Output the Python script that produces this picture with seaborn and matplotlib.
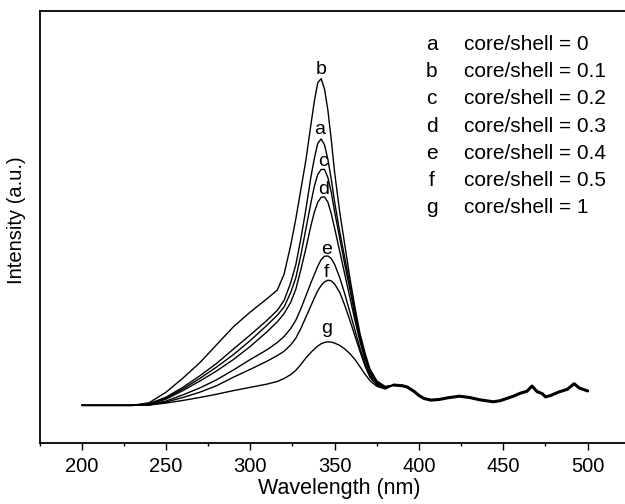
"""
Espectros de intensidad para distintas relaciones core/shell (a-g).
Valores leidos a ojo de la figura original.
"""
import pandas as pd
import matplotlib
matplotlib.use("Agg")
import matplotlib.pyplot as plt
import seaborn as sns
from matplotlib.ticker import MultipleLocator

# --- longitudes de onda (nm) ---
wl_pico = [200, 230, 240, 250, 260, 270, 280, 290, 300, 310, 316, 320, 324, 327,
           330, 333, 336, 338, 340, 342, 344, 346, 348, 350, 353, 356, 359, 362,
           365, 368, 371, 375, 380]
wl_cola = [385, 390, 393, 397, 400, 403, 407, 412, 417, 424, 430, 436, 444, 448,
           452, 456, 460, 464, 467, 470, 473, 475, 478, 483, 488, 492, 495, 500]

# cola comun a todas las muestras (> 380 nm)
cola = [0.062, 0.060, 0.056, 0.043, 0.030, 0.021, 0.016, 0.018, 0.023, 0.028,
        0.024, 0.017, 0.011, 0.014, 0.021, 0.028, 0.037, 0.043, 0.059, 0.042,
        0.036, 0.026, 0.030, 0.041, 0.049, 0.066, 0.053, 0.044]

# intensidad (u.a.) de cada muestra en la zona del pico
int_a = [0, 0, 0.005, 0.025, 0.055, 0.090, 0.128, 0.172, 0.215, 0.260, 0.290,
         0.320, 0.375, 0.430, 0.510, 0.600, 0.700, 0.755, 0.800, 0.813, 0.795,
         0.750, 0.690, 0.620, 0.530, 0.450, 0.370, 0.285, 0.210, 0.150, 0.105,
         0.072, 0.057]
int_b = [0, 0, 0.008, 0.040, 0.083, 0.130, 0.185, 0.240, 0.285, 0.326, 0.352,
         0.400, 0.490, 0.570, 0.660, 0.750, 0.860, 0.930, 0.985, 0.997, 0.965,
         0.900, 0.810, 0.710, 0.590, 0.490, 0.390, 0.300, 0.220, 0.160, 0.110,
         0.075, 0.057]
int_c = [0, 0, 0.004, 0.022, 0.050, 0.082, 0.117, 0.155, 0.198, 0.245, 0.275,
         0.300, 0.345, 0.390, 0.460, 0.540, 0.620, 0.670, 0.705, 0.720, 0.720,
         0.695, 0.650, 0.590, 0.510, 0.430, 0.355, 0.275, 0.205, 0.145, 0.100,
         0.070, 0.056]
int_d = [0, 0, 0.003, 0.019, 0.045, 0.074, 0.105, 0.140, 0.180, 0.225, 0.255,
         0.280, 0.315, 0.355, 0.415, 0.480, 0.550, 0.590, 0.620, 0.635, 0.636,
         0.620, 0.585, 0.540, 0.470, 0.400, 0.330, 0.260, 0.195, 0.140, 0.097,
         0.068, 0.055]
int_e = [0, 0, 0.002, 0.013, 0.032, 0.053, 0.078, 0.108, 0.140, 0.170, 0.192,
         0.210, 0.235, 0.260, 0.295, 0.335, 0.375, 0.400, 0.425, 0.445, 0.455,
         0.456, 0.448, 0.430, 0.390, 0.340, 0.285, 0.230, 0.175, 0.128, 0.090,
         0.065, 0.054]
int_f = [0, 0, 0.001, 0.010, 0.024, 0.040, 0.060, 0.086, 0.110, 0.135, 0.152,
         0.165, 0.185, 0.205, 0.235, 0.270, 0.305, 0.328, 0.350, 0.366, 0.377,
         0.382, 0.380, 0.370, 0.345, 0.305, 0.260, 0.212, 0.165, 0.120, 0.085,
         0.062, 0.053]
int_g = [0, 0, 0.001, 0.007, 0.015, 0.024, 0.034, 0.045, 0.055, 0.065, 0.073,
         0.082, 0.094, 0.107, 0.125, 0.145, 0.162, 0.172, 0.181, 0.188, 0.192,
         0.194, 0.193, 0.190, 0.183, 0.172, 0.158, 0.140, 0.118, 0.095, 0.075,
         0.058, 0.050]

muestras = ["a", "b", "c", "d", "e", "f", "g"]
relaciones = ["0", "0.1", "0.2", "0.3", "0.4", "0.5", "1"]
curvas = [int_a, int_b, int_c, int_d, int_e, int_f, int_g]

# posicion de la letra sobre cada pico (nm, intensidad)
letra_x = [341.0, 341.7, 343.0, 343.4, 345.3, 345.3, 345.3]
letra_y = [0.843, 1.024, 0.743, 0.658, 0.475, 0.404, 0.236]

# tabla larga para seaborn
filas = []
for m, vals in zip(muestras, curvas):
    for w, v in zip(wl_pico + wl_cola, vals + cola):
        filas.append((m, w, v))
df = pd.DataFrame(filas, columns=["muestra", "wl", "intensidad"])

sns.set_style("ticks")
plt.rcParams["font.family"] = ["Liberation Sans", "DejaVu Sans"]
plt.rcParams["text.color"] = "black"
plt.rcParams["axes.labelcolor"] = "black"
plt.rcParams["axes.edgecolor"] = "black"
plt.rcParams["xtick.color"] = "black"

fig = plt.figure(figsize=(6.25, 5.04), dpi=100)
ax = fig.add_axes([0.0632, 0.1216, 0.958, 0.8572])

for m in muestras:
    sub = df[df["muestra"] == m]
    sns.lineplot(data=sub, x="wl", y="intensidad", color="black",
                 linewidth=1.0, ax=ax, legend=False)

# la cola se ve gruesa porque las 7 curvas se solapan
sns.lineplot(x=wl_cola, y=cola, color="black", linewidth=2.2, ax=ax, legend=False)

for m, x, y in zip(muestras, letra_x, letra_y):
    ax.text(x, y, m, ha="center", va="center", fontsize=14)

# leyenda escrita a mano, como en la figura
fila_y = [45, 71.7, 99, 126, 153.3, 180, 207.3]
for m, r, py in zip(muestras, relaciones, fila_y):
    fig.text(431.6 / 625, 1 - py / 504, m, ha="center", va="center", fontsize=15)
    fig.text(464.3 / 625, 1 - py / 504, f"core/shell = {r}", ha="left",
             va="center", fontsize=15)

ax.set_xlim(175, 530)
ax.set_ylim(-0.114, 1.2045)
ax.xaxis.set_major_locator(MultipleLocator(50))
ax.xaxis.set_minor_locator(MultipleLocator(25))
ax.set_yticks([])
ax.tick_params(axis="x", which="major", direction="out", length=5, width=1,
               labelsize=14.5, pad=5)
ax.tick_params(axis="x", which="minor", direction="out", length=2.5, width=1)
ax.set_xlabel("Wavelength (nm)", fontsize=15.5, labelpad=2)
ax.set_ylabel("Intensity (a.u.)", fontsize=14.5)
ax.yaxis.set_label_coords(-0.023, 0.515)
for s in ["left", "bottom", "top"]:
    ax.spines[s].set_linewidth(1.3)
ax.spines["right"].set_visible(False)

fig.savefig("out.png", dpi=100)
